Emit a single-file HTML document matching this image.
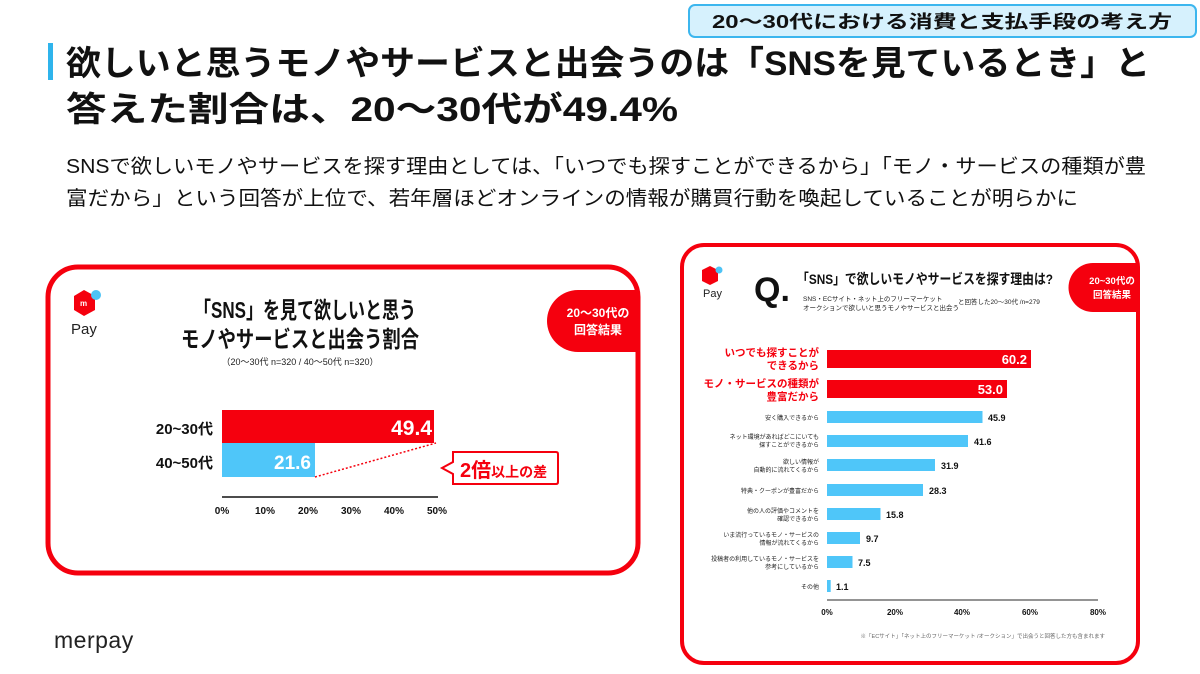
<!DOCTYPE html>
<html><head><meta charset="utf-8"><style>
html,body{margin:0;padding:0;background:#fff;width:1200px;height:674px;overflow:hidden}
svg{display:block}
text{font-family:"Liberation Sans","Noto Sans CJK JP",sans-serif}
</style></head><body>
<svg width="1200" height="674" viewBox="0 0 1200 674" xmlns="http://www.w3.org/2000/svg">
<rect x="689" y="5" width="507" height="32" rx="6" fill="#d6f1fd" stroke="#3cb6ee" stroke-width="2"/>
<text x="942" y="28" font-size="18" font-weight="bold" text-anchor="middle" fill="#111" textLength="460" lengthAdjust="spacingAndGlyphs">20〜30代における消費と支払手段の考え方</text>
<rect x="48" y="43" width="5" height="37" fill="#2fb4ec"/>
<text x="66" y="75" font-size="34" font-weight="bold" fill="#111" textLength="1084" lengthAdjust="spacingAndGlyphs">欲しいと思うモノやサービスと出会うのは「SNSを見ているとき」と</text>
<text x="66" y="121" font-size="34" font-weight="bold" fill="#111" textLength="612" lengthAdjust="spacingAndGlyphs">答えた割合は、20〜30代が49.4%</text>
<text x="66" y="173" font-size="20" fill="#111" textLength="1080" lengthAdjust="spacingAndGlyphs">SNSで欲しいモノやサービスを探す理由としては、「いつでも探すことができるから」「モノ・サービスの種類が豊</text>
<text x="66" y="205" font-size="20" fill="#111" textLength="1012" lengthAdjust="spacingAndGlyphs">富だから」という回答が上位で、若年層ほどオンラインの情報が購買行動を喚起していることが明らかに</text>

<rect x="48" y="267" width="590" height="306" rx="30" fill="#fff" stroke="#f5000e" stroke-width="5"/>
<path d="M74 296 L84 290 L95 296 L95 310 L84 316 L74 310 Z" fill="#f5000e"/>
<circle cx="96" cy="295" r="5" fill="#4dc3f5"/>
<text x="80" y="306" font-size="8" font-weight="bold" fill="#fff">m</text>
<text x="71" y="334" font-size="15" fill="#222">Pay</text>
<text x="305" y="318" font-size="23" font-weight="bold" text-anchor="middle" fill="#111" textLength="222" lengthAdjust="spacingAndGlyphs">「SNS」を見て欲しいと思う</text>
<text x="300" y="347" font-size="23" font-weight="bold" text-anchor="middle" fill="#111" textLength="238" lengthAdjust="spacingAndGlyphs">モノやサービスと出会う割合</text>
<text x="300" y="365" font-size="9" text-anchor="middle" fill="#222">（20〜30代 n=320 / 40〜50代 n=320）</text>
<path d="M578 290 L638 290 L638 352 L578 352 A31 31 0 0 1 578 290 Z" fill="#f5000e"/>
<text x="598" y="317" font-size="12" font-weight="bold" text-anchor="middle" fill="#fff">20〜30代の</text>
<text x="598" y="334" font-size="12" font-weight="bold" text-anchor="middle" fill="#fff">回答結果</text>
<rect x="222" y="410" width="212" height="33" fill="#f5000e"/>
<rect x="222" y="443" width="93" height="34" fill="#4fc6f9"/>
<text x="432" y="435" font-size="21" font-weight="bold" text-anchor="end" fill="#fff">49.4</text>
<text x="311" y="469" font-size="19" font-weight="bold" text-anchor="end" fill="#fff">21.6</text>
<text x="213" y="434" font-size="15" font-weight="bold" text-anchor="end" fill="#111">20~30代</text>
<text x="213" y="468" font-size="15" font-weight="bold" text-anchor="end" fill="#111">40~50代</text>
<line x1="315" y1="477" x2="436" y2="443" stroke="#f5000e" stroke-width="1.5" stroke-dasharray="2,2"/>
<path d="M453 452 L556 452 Q558 452 558 454 L558 482 Q558 484 556 484 L453 484 L453 474 L442 468 L453 462 Z" fill="#fff" stroke="#f5000e" stroke-width="2"/>
<text x="460" y="477" font-size="20" font-weight="bold" fill="#f5000e">2倍<tspan font-size="14">以上の差</tspan></text>
<line x1="222" y1="497" x2="438" y2="497" stroke="#111" stroke-width="1.5"/>
<g font-size="10" font-weight="bold" fill="#111" text-anchor="middle">
<text x="222" y="514">0%</text><text x="265" y="514">10%</text><text x="308" y="514">20%</text><text x="351" y="514">30%</text><text x="394" y="514">40%</text><text x="437" y="514">50%</text>
</g>

<rect x="682" y="245" width="456" height="418" rx="22" fill="#fff" stroke="#f5000e" stroke-width="4"/>
<path d="M702 270 L710 266 L718 270 L718 281 L710 285 L702 281 Z" fill="#f5000e"/>
<circle cx="719" cy="270" r="3.5" fill="#4dc3f5"/>
<text x="703" y="297" font-size="11" fill="#222">Pay</text>
<text x="754" y="301" font-size="34" font-weight="bold" fill="#111">Q.</text>
<text x="797" y="284" font-size="14" font-weight="bold" fill="#111" textLength="256" lengthAdjust="spacingAndGlyphs">「SNS」で欲しいモノやサービスを探す理由は?</text>
<text x="803" y="301" font-size="6.5" fill="#222">SNS・ECサイト・ネット上のフリーマーケット</text>
<text x="803" y="310" font-size="6.5" fill="#222">オークションで欲しいと思うモノやサービスと出会う</text>
<text x="958" y="304" font-size="6.5" fill="#222">と回答した20〜30代 /n=279</text>
<path d="M1093 263 L1138 263 L1138 312 L1093 312 A24.5 24.5 0 0 1 1093 263 Z" fill="#f5000e"/>
<text x="1112" y="284" font-size="9.5" font-weight="bold" text-anchor="middle" fill="#fff">20~30代の</text>
<text x="1112" y="298" font-size="9.5" font-weight="bold" text-anchor="middle" fill="#fff">回答結果</text>
<g>
<rect x="827" y="350" width="204" height="18" fill="#f5000e"/>
<text x="1027" y="364" font-size="13" font-weight="bold" text-anchor="end" fill="#fff">60.2</text>
<text x="819" y="356" font-size="10.5" font-weight="bold" text-anchor="end" fill="#f5000e">いつでも探すことが</text>
<text x="819" y="369" font-size="10.5" font-weight="bold" text-anchor="end" fill="#f5000e">できるから</text>
<rect x="827" y="380" width="180" height="18" fill="#f5000e"/>
<text x="1003" y="394" font-size="13" font-weight="bold" text-anchor="end" fill="#fff">53.0</text>
<text x="819" y="387" font-size="10.5" font-weight="bold" text-anchor="end" fill="#f5000e">モノ・サービスの種類が</text>
<text x="819" y="400" font-size="10.5" font-weight="bold" text-anchor="end" fill="#f5000e">豊富だから</text>
</g>
<g fill="#4fc6f9">
<rect x="827" y="411" width="155.5" height="12"/>
<rect x="827" y="435" width="141" height="12"/>
<rect x="827" y="459" width="108" height="12"/>
<rect x="827" y="484" width="96" height="12"/>
<rect x="827" y="508" width="53.5" height="12"/>
<rect x="827" y="532" width="33" height="12"/>
<rect x="827" y="556" width="25.5" height="12"/>
<rect x="827" y="580" width="3.7" height="12"/>
</g>
<g font-size="9" font-weight="bold" fill="#111">
<text x="988" y="421">45.9</text><text x="974" y="445">41.6</text><text x="941" y="469">31.9</text>
<text x="929" y="494">28.3</text><text x="886" y="518">15.8</text><text x="866" y="542">9.7</text>
<text x="858" y="566">7.5</text><text x="836" y="590">1.1</text>
</g>
<g font-size="6" fill="#222" text-anchor="end">
<text x="819" y="420">安く購入できるから</text>
<text x="819" y="439">ネット環境があればどこにいても</text><text x="819" y="447">探すことができるから</text>
<text x="819" y="464">欲しい情報が</text><text x="819" y="472">自動的に流れてくるから</text>
<text x="819" y="493">特典・クーポンが豊富だから</text>
<text x="819" y="513">他の人の評価やコメントを</text><text x="819" y="521">確認できるから</text>
<text x="819" y="537">いま流行っているモノ・サービスの</text><text x="819" y="545">情報が流れてくるから</text>
<text x="819" y="561">投稿者の利用しているモノ・サービスを</text><text x="819" y="569">参考にしているから</text>
<text x="819" y="589">その他</text>
</g>
<line x1="827" y1="600" x2="1098" y2="600" stroke="#555" stroke-width="1.2"/>
<g font-size="8" font-weight="bold" fill="#111" text-anchor="middle">
<text x="827" y="615">0%</text><text x="895" y="615">20%</text><text x="962" y="615">40%</text><text x="1030" y="615">60%</text><text x="1098" y="615">80%</text>
</g>
<text x="1105" y="638" font-size="5.5" fill="#666" text-anchor="end">※「ECサイト」「ネット上のフリーマーケット /オークション」で出会うと回答した方も含まれます</text>

<text x="54" y="648" font-size="23" fill="#222" letter-spacing="0.5">merpay</text>
</svg>
</body></html>
